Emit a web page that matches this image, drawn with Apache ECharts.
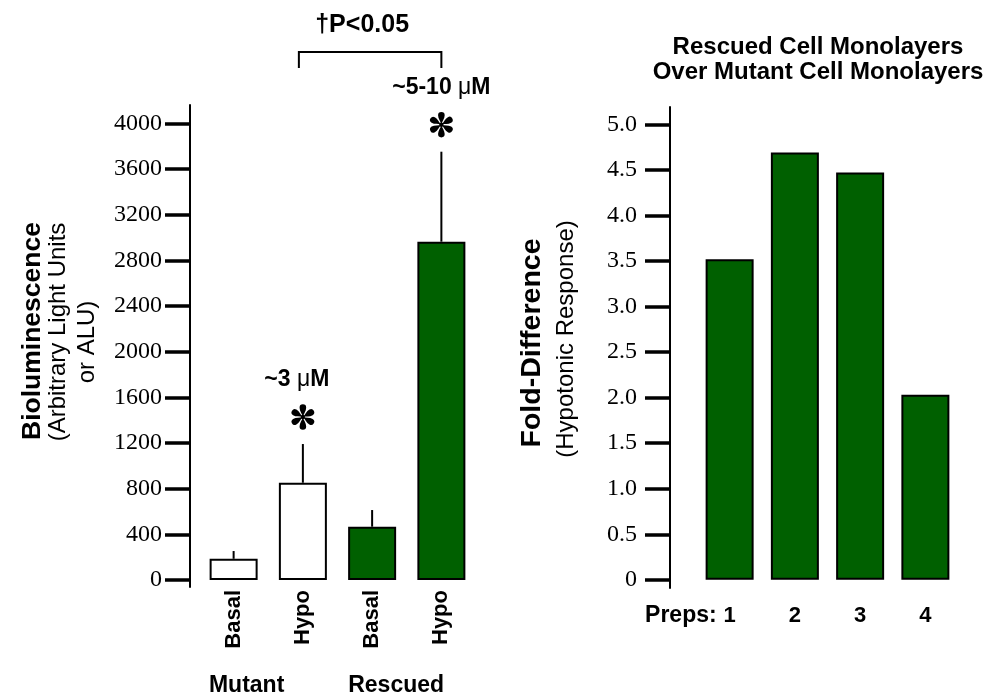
<!DOCTYPE html>
<html>
<head>
<meta charset="utf-8">
<script src="https://cdn.jsdelivr.net/npm/echarts@6/dist/echarts.min.js"></script>
<style>html,body{margin:0;padding:0;background:#fff;}#c{width:999px;height:697px;}</style>
</head>
<body>
<div id="c"></div>
<script>
// ---- data ----
const groups = ['Mutant', 'Rescued'];
const conditions = ['Basal', 'Hypo', 'Basal', 'Hypo'];
const barGroup = [0, 0, 1, 1];
const luminescence = [186, 852, 467, 2963];
const luminescenceErrTop = [254, 1191, 613, 3751];
const concentrations = ['', '~3 μM', '', '~5-10 μM'];
const significant = [false, true, false, true];
const pValueText = '†P<0.05';
const leftTicks = [0, 400, 800, 1200, 1600, 2000, 2400, 2800, 3200, 3600, 4000];

const preps = ['1', '2', '3', '4'];
const foldDifference = [3.52, 4.69, 4.47, 2.03];
const rightTicks = [0, 0.5, 1.0, 1.5, 2.0, 2.5, 3.0, 3.5, 4.0, 4.5, 5.0];

// ---- styles ----
const SANS = '"Liberation Sans", Arial, Helvetica, sans-serif';
const SERIF = '"Liberation Serif", "Times New Roman", Times, serif';
const GREEN = '#006000';
const groupColors = ['#ffffff', GREEN];

// six-petal asterisk glyph built as a path around (cx, cy)
function asteriskPath(cx, cy, s) {
  const petal = [[0, -0.5], [-0.7, -3], [-3.3, -6], [-3.3, -9.4], [3.3, -9.4], [3.3, -6], [0.7, -3]];
  const r = (3.3 * s).toFixed(2);
  let d = '';
  for (let k = 0; k < 6; k++) {
    const a = k * Math.PI / 3;
    const ca = Math.cos(a), sa = Math.sin(a);
    const p = petal.map(([x, y]) => [cx + s * (x * ca - y * sa), cy + s * (x * sa + y * ca)].map(n => n.toFixed(2)));
    d += 'M' + p[0].join(' ') + 'C' + p[1].join(' ') + ' ' + p[2].join(' ') + ' ' + p[3].join(' ') +
         'A' + r + ' ' + r + ' 0 0 1 ' + p[4].join(' ') +
         'C' + p[5].join(' ') + ' ' + p[6].join(' ') + ' ' + p[0].join(' ') + 'Z';
  }
  return d;
}

const chart = echarts.init(document.getElementById('c'), null, {renderer: 'canvas'});

const yAxisCommon = {
  type: 'value',
  axisLine: {show: true, lineStyle: {color: '#000', width: 2}},
  splitLine: {show: false},
  axisTick: {show: true, length: 25, lineStyle: {color: '#000', width: 3.5}},
  axisLabel: {color: '#000', fontFamily: SERIF, fontSize: 24}
};

const option = {
  animation: false,
  backgroundColor: '#fff',
  title: {
    text: 'Rescued Cell Monolayers\nOver Mutant Cell Monolayers',
    left: 813, top: 30, textAlign: 'center',
    textStyle: {fontFamily: SANS, fontWeight: 'bold', fontSize: 24, lineHeight: 25, color: '#000'}
  },
  grid: [
    {left: 199, right: 523, top: 105, bottom: 110},
    {left: 697, right: 41, top: 107, bottom: 109}
  ],
  xAxis: [
    {
      type: 'category', gridIndex: 0,
      data: conditions.map((c, i) => groups[barGroup[i]] + ' ' + c),
      axisLine: {show: false}, axisTick: {show: false},
      axisLabel: {
        rotate: 90, margin: 3, color: '#000', fontFamily: SANS, fontWeight: 'bold', fontSize: 22,
        formatter: (v, i) => conditions[i]
      }
    },
    {
      type: 'category', gridIndex: 1, data: preps,
      axisLine: {show: false}, axisTick: {show: false},
      axisLabel: {margin: 17, color: '#000', fontFamily: SANS, fontWeight: 'bold', fontSize: 22}
    }
  ],
  yAxis: [
    Object.assign({}, yAxisCommon, {
      gridIndex: 0, offset: 9, min: -61, max: 4160,
      axisTick: Object.assign({}, yAxisCommon.axisTick, {customValues: leftTicks}),
      axisLabel: Object.assign({}, yAxisCommon.axisLabel, {
        customValues: leftTicks, margin: 28, formatter: v => String(v)
      })
    }),
    Object.assign({}, yAxisCommon, {
      gridIndex: 1, offset: 27, min: -0.09, max: 5.19,
      axisTick: Object.assign({}, yAxisCommon.axisTick, {customValues: rightTicks}),
      axisLabel: Object.assign({}, yAxisCommon.axisLabel, {
        customValues: rightTicks, margin: 33,
        formatter: v => (v === 0 ? '0' : v.toFixed(1))
      })
    })
  ],
  series: [
    {
      type: 'bar', xAxisIndex: 0, yAxisIndex: 0, barWidth: 48,
      data: luminescence.map((v, i) => ({
        value: v,
        itemStyle: {color: groupColors[barGroup[i]], borderColor: '#000', borderWidth: 2}
      }))
    },
    {
      type: 'custom', xAxisIndex: 0, yAxisIndex: 0, clip: false, z: 5,
      data: luminescence.map((v, i) => [i, v, luminescenceErrTop[i]]),
      renderItem: function (params, api) {
        const i = params.dataIndex;
        const p0 = api.coord([api.value(0), api.value(1)]);
        const p1 = api.coord([api.value(0), api.value(2)]);
        const children = [{
          type: 'line',
          shape: {x1: p0[0], y1: p0[1], x2: p1[0], y2: p1[1]},
          style: {stroke: '#000', lineWidth: 2}
        }];
        if (significant[i]) {
          children.push({
            type: 'path',
            shape: {pathData: asteriskPath(p1[0], p1[1] - 27, 1)},
            style: {fill: '#000', stroke: null}
          });
          children.push({
            type: 'circle',
            shape: {cx: p1[0], cy: p1[1] - 27, r: 2.2},
            style: {fill: '#000'}
          });
        }
        if (concentrations[i]) {
          const parts = concentrations[i].split('μ');
          children.push({
            type: 'text', x: p1[0] - (i === 1 ? 6 : 0), y: p1[1] - 64,
            style: {
              text: '{b|' + parts[0] + '}{m|μ}{b|' + parts[1] + '}',
              align: 'center', verticalAlign: 'middle',
              rich: {
                b: {fontFamily: SANS, fontWeight: 'bold', fontSize: 23, fill: '#000'},
                m: {fontFamily: SANS, fontWeight: 'normal', fontSize: 23, fill: '#000'}
              }
            }
          });
        }
        return {type: 'group', children: children};
      }
    },
    {
      type: 'bar', xAxisIndex: 1, yAxisIndex: 1, barWidth: 48,
      data: foldDifference,
      itemStyle: {color: GREEN, borderColor: '#000', borderWidth: 2}
    }
  ]
};

chart.setOption(option);

// annotations positioned from the axes
const xHypoMut = chart.convertToPixel({xAxisIndex: 0}, 1);
const xHypoRes = chart.convertToPixel({xAxisIndex: 0}, 3);
const xPrep1 = chart.convertToPixel({xAxisIndex: 1}, 0);
const xBasalMut = chart.convertToPixel({xAxisIndex: 0}, 0);
const xBasalRes = chart.convertToPixel({xAxisIndex: 0}, 2);

function txt(text, x, y, font, rot) {
  return {
    type: 'text', x: x, y: y, rotation: rot || 0,
    style: {text: text, font: font, fill: '#000', align: 'center', verticalAlign: 'middle',
            textAlign: 'center', textVerticalAlign: 'middle'}
  };
}

chart.setOption({
  graphic: [
    {
      type: 'polyline',
      shape: {points: [[xHypoMut - 4, 68], [xHypoMut - 4, 52], [xHypoRes, 52], [xHypoRes, 68]]},
      style: {stroke: '#000', lineWidth: 2, fill: null}
    },
    txt(pValueText, (xHypoMut + xHypoRes) / 2 - 10, 25, 'bold 25px ' + SANS),
    txt(groups[0], xBasalMut + 13, 686, 'bold 23px ' + SANS),
    txt(groups[1], xBasalRes + 24, 686, 'bold 23px ' + SANS),
    {
      type: 'text', x: xPrep1 - 13, y: 616,
      style: {text: 'Preps:', font: 'bold 23px ' + SANS, fill: '#000', align: 'right', verticalAlign: 'middle',
              textAlign: 'right', textVerticalAlign: 'middle'}
    },
    txt('Bioluminescence', 33, 331, 'bold 26.5px ' + SANS, Math.PI / 2),
    txt('(Arbitrary Light Units', 58, 332, '24px ' + SANS, Math.PI / 2),
    txt('or ALU)', 87, 342, '24px ' + SANS, Math.PI / 2),
    txt('Fold-Difference', 532, 343, 'bold 28.5px ' + SANS, Math.PI / 2),
    txt('(Hypotonic Response)', 566, 339, '24px ' + SANS, Math.PI / 2)
  ]
});
</script>
</body>
</html>
